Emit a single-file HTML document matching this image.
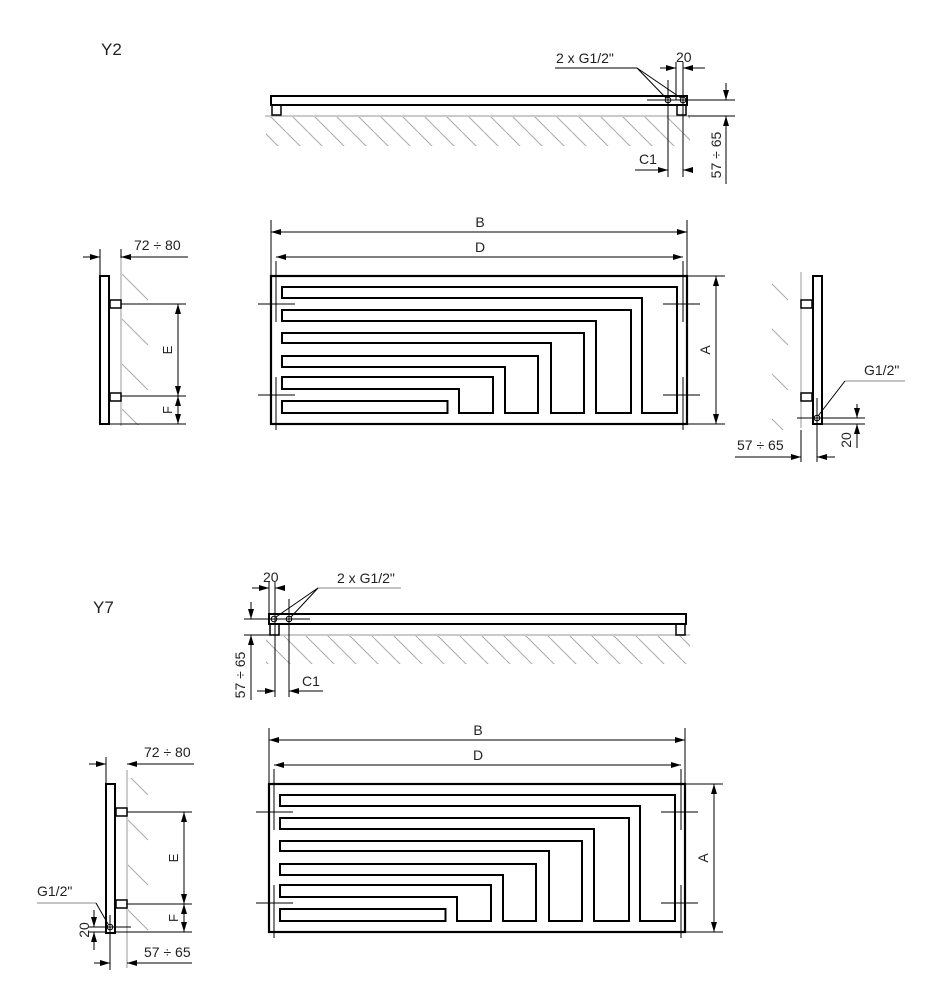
<!DOCTYPE html>
<html><head><meta charset="utf-8"><style>
html,body{margin:0;padding:0;background:#fff}
svg{display:block}
text{font-family:"Liberation Sans",sans-serif;fill:#222}
</style></head><body>
<svg width="940" height="1002" viewBox="0 0 940 1002" xmlns="http://www.w3.org/2000/svg">
<defs>
<marker id="ar" viewBox="0 0 10 6" refX="10" refY="3" markerWidth="10" markerHeight="6" markerUnits="userSpaceOnUse" orient="auto-start-reverse"><path d="M0,0 L10,3 L0,6z" fill="#000"/></marker>
<pattern id="h" patternUnits="userSpaceOnUse" width="22" height="22"><path d="M-1,-1 L23,23" stroke="#aaa" stroke-width="1"/></pattern>
<pattern id="hs" patternUnits="userSpaceOnUse" width="40" height="45"><path d="M2,4 L28,30" stroke="#aaa" stroke-width="1"/></pattern>
<g id="front">
<rect x="271" y="276" width="416" height="148" fill="none" stroke="#000" stroke-width="2.2"/>
<g fill="none" stroke="#000" stroke-width="2">
<polygon points="282,287 677,287 677,413 642,413 642,298 282,298"/>
<polygon points="282,310 631,310 631,413 596,413 596,321 282,321"/>
<polygon points="282,333 584,333 584,413 551,413 551,343 282,343"/>
<polygon points="282,356 538,356 538,413 505,413 505,367 282,367"/>
<polygon points="282,377 493,377 493,413 459,413 459,389 282,389"/>
<rect x="282" y="401" width="165.5" height="12"/>
</g>
<g stroke="#000" stroke-width="1">
<line x1="258" y1="304" x2="295" y2="304"/><line x1="276" y1="261" x2="276" y2="322"/>
<line x1="258" y1="395" x2="295" y2="395"/><line x1="276" y1="377" x2="276" y2="430"/>
<line x1="663" y1="304" x2="700" y2="304"/><line x1="683" y1="261" x2="683" y2="322"/>
<line x1="663" y1="395" x2="700" y2="395"/><line x1="683" y1="377" x2="683" y2="430"/>
<line x1="271" y1="220" x2="271" y2="276"/><line x1="687" y1="220" x2="687" y2="276"/>
<line x1="271" y1="232" x2="687" y2="232" marker-start="url(#ar)" marker-end="url(#ar)"/>
<line x1="276" y1="257" x2="683" y2="257" marker-start="url(#ar)" marker-end="url(#ar)"/>
<line x1="687" y1="276" x2="725" y2="276"/><line x1="687" y1="424" x2="725" y2="424"/>
<line x1="716" y1="276" x2="716" y2="424" marker-start="url(#ar)" marker-end="url(#ar)"/>
</g>
<text x="480" y="227" font-size="14" text-anchor="middle">B</text>
<text x="480" y="252" font-size="14" text-anchor="middle">D</text>
<text x="710" y="350" font-size="14" text-anchor="middle" transform="rotate(-90 710 350)">A</text>
</g>
</defs>

<text x="101" y="55" font-size="17">Y2</text>
<text x="93" y="613" font-size="17">Y7</text>

<!-- Y2 top view -->
<rect x="266" y="117" width="424" height="29" fill="url(#h)"/>
<line x1="265" y1="116" x2="690" y2="116" stroke="#aaa" stroke-width="1.2"/>
<rect x="271" y="96" width="416" height="9" fill="none" stroke="#000" stroke-width="2"/>
<rect x="272" y="105" width="9" height="10" fill="none" stroke="#000" stroke-width="1.5"/>
<rect x="677" y="105" width="9" height="10" fill="none" stroke="#000" stroke-width="1.5"/>
<g stroke="#000" stroke-width="1" fill="none">
<circle cx="668" cy="100" r="2.8"/><circle cx="683" cy="100" r="2.8"/>
<line x1="647" y1="100" x2="735" y2="100"/><line x1="688" y1="116" x2="735" y2="116"/>
<line x1="668" y1="80" x2="668" y2="177"/><line x1="683" y1="62" x2="683" y2="177"/>
<line x1="676" y1="62" x2="676" y2="100"/>
<line x1="660" y1="68" x2="676" y2="68" marker-end="url(#ar)"/><line x1="705" y1="68" x2="683" y2="68" marker-end="url(#ar)"/>
<line x1="635" y1="170" x2="668" y2="170" marker-end="url(#ar)"/><line x1="692" y1="170" x2="683" y2="170" marker-end="url(#ar)"/>
<line x1="726" y1="83" x2="726" y2="100" marker-end="url(#ar)"/><line x1="726" y1="184" x2="726" y2="116" marker-end="url(#ar)"/>
<line x1="555" y1="68" x2="637" y2="68"/><line x1="637" y1="68" x2="666" y2="98"/><line x1="637" y1="68" x2="681" y2="98"/>
</g>
<text x="556" y="63" font-size="14">2 x G1/2"</text>
<text x="676" y="62" font-size="14">20</text>
<text x="639" y="164" font-size="14">C1</text>
<text x="721" y="155" font-size="14" text-anchor="middle" transform="rotate(-90 721 155)">57 ÷ 65</text>

<use href="#front"/>
<use href="#front" transform="translate(-2,508)"/>

<!-- Y2 left side -->
<rect x="122" y="262" width="30" height="163" fill="url(#hs)"/>
<line x1="121" y1="255" x2="121" y2="426" stroke="#aaa" stroke-width="1.2"/>
<rect x="100" y="276" width="9" height="148" fill="none" stroke="#000" stroke-width="2"/>
<rect x="110" y="300" width="11" height="8" fill="#fff" stroke="#000" stroke-width="1.5"/>
<rect x="110" y="393" width="11" height="8" fill="#fff" stroke="#000" stroke-width="1.5"/>
<g stroke="#000" stroke-width="1">
<line x1="100" y1="249" x2="100" y2="276"/><line x1="121" y1="249" x2="121" y2="258"/>
<line x1="83" y1="257" x2="100" y2="257" marker-end="url(#ar)"/><line x1="188" y1="257" x2="121" y2="257" marker-end="url(#ar)"/>
<line x1="121" y1="304" x2="186" y2="304"/><line x1="121" y1="396" x2="186" y2="396"/><line x1="109" y1="424" x2="186" y2="424"/>
<line x1="178" y1="304" x2="178" y2="396" marker-start="url(#ar)" marker-end="url(#ar)"/>
<line x1="178" y1="396" x2="178" y2="424" marker-start="url(#ar)" marker-end="url(#ar)"/>
</g>
<text x="134" y="250" font-size="14">72 ÷ 80</text>
<text x="172" y="350" font-size="13" text-anchor="middle" transform="rotate(-90 172 350)">E</text>
<text x="172" y="410" font-size="13" text-anchor="middle" transform="rotate(-90 172 410)">F</text>

<!-- Y2 right side -->
<rect x="772" y="268" width="29" height="162" fill="url(#hs)"/>
<line x1="801" y1="272" x2="801" y2="428" stroke="#aaa" stroke-width="1.2"/>
<rect x="813" y="276" width="9" height="148" fill="none" stroke="#000" stroke-width="2"/>
<rect x="801" y="300" width="11" height="8" fill="#fff" stroke="#000" stroke-width="1.5"/>
<rect x="801" y="393" width="11" height="8" fill="#fff" stroke="#000" stroke-width="1.5"/>
<g stroke="#000" stroke-width="1" fill="none">
<circle cx="817" cy="418" r="2.8"/>
<line x1="797" y1="418" x2="865" y2="418"/><line x1="822" y1="424" x2="865" y2="424"/>
<line x1="857" y1="404" x2="857" y2="418" marker-end="url(#ar)"/><line x1="857" y1="448" x2="857" y2="424" marker-end="url(#ar)"/>
<line x1="817" y1="398" x2="817" y2="462"/><line x1="801" y1="430" x2="801" y2="462"/>
<line x1="735" y1="457" x2="801" y2="457" marker-end="url(#ar)"/><line x1="835" y1="457" x2="817" y2="457" marker-end="url(#ar)"/>
<line x1="905" y1="381" x2="845" y2="381" stroke="#888"/><line x1="845" y1="381" x2="818" y2="416"/>
</g>
<text x="864" y="375" font-size="14">G1/2"</text>
<text x="737" y="450" font-size="14">57 ÷ 65</text>
<text x="851" y="440" font-size="14" text-anchor="middle" transform="rotate(-90 851 440)">20</text>

<!-- Y7 top view -->
<rect x="266" y="636" width="424" height="28" fill="url(#h)"/>
<line x1="268" y1="635" x2="690" y2="635" stroke="#aaa" stroke-width="1.2"/>
<rect x="269" y="614" width="417" height="10" fill="none" stroke="#000" stroke-width="2"/>
<rect x="270" y="624" width="9" height="11" fill="none" stroke="#000" stroke-width="1.5"/>
<rect x="676" y="624" width="9" height="11" fill="none" stroke="#000" stroke-width="1.5"/>
<g stroke="#000" stroke-width="1" fill="none">
<circle cx="274" cy="619" r="2.8"/><circle cx="289" cy="619" r="2.8"/>
<line x1="244" y1="619" x2="310" y2="619"/><line x1="244" y1="635" x2="270" y2="635"/>
<line x1="269" y1="582" x2="269" y2="614"/><line x1="275" y1="582" x2="275" y2="697"/><line x1="289" y1="599" x2="289" y2="697"/>
<line x1="252" y1="588" x2="269" y2="588" marker-end="url(#ar)"/><line x1="284" y1="588" x2="275" y2="588" marker-end="url(#ar)"/>
<line x1="257" y1="691" x2="275" y2="691" marker-end="url(#ar)"/><line x1="323" y1="691" x2="289" y2="691" marker-end="url(#ar)"/>
<line x1="251" y1="602" x2="251" y2="619" marker-end="url(#ar)"/><line x1="251" y1="700" x2="251" y2="635" marker-end="url(#ar)"/>
<line x1="401" y1="588" x2="318" y2="588" stroke="#888"/><line x1="318" y1="588" x2="276" y2="617"/><line x1="318" y1="588" x2="291" y2="617"/>
</g>
<text x="263" y="582" font-size="14">20</text>
<text x="337" y="583" font-size="14">2 x G1/2"</text>
<text x="302" y="686" font-size="14">C1</text>
<text x="245" y="675" font-size="14" text-anchor="middle" transform="rotate(-90 245 675)">57 ÷ 65</text>

<!-- Y7 left side -->
<rect x="128" y="778" width="30" height="157" fill="url(#hs)"/>
<line x1="127" y1="770" x2="127" y2="968" stroke="#aaa" stroke-width="1.2"/>
<rect x="106" y="784" width="9" height="149" fill="none" stroke="#000" stroke-width="2"/>
<rect x="116" y="808" width="11" height="8" fill="#fff" stroke="#000" stroke-width="1.5"/>
<rect x="116" y="900" width="11" height="8" fill="#fff" stroke="#000" stroke-width="1.5"/>
<g stroke="#000" stroke-width="1" fill="none">
<circle cx="110" cy="927" r="2.8"/>
<line x1="106" y1="757" x2="106" y2="784"/>
<line x1="89" y1="764" x2="106" y2="764" marker-end="url(#ar)"/><line x1="194" y1="764" x2="127" y2="764" marker-end="url(#ar)"/>
<line x1="127" y1="812" x2="192" y2="812"/><line x1="127" y1="904" x2="192" y2="904"/><line x1="115" y1="932" x2="192" y2="932"/>
<line x1="184" y1="812" x2="184" y2="904" marker-start="url(#ar)" marker-end="url(#ar)"/>
<line x1="184" y1="904" x2="184" y2="932" marker-start="url(#ar)" marker-end="url(#ar)"/>
<line x1="88" y1="927" x2="131" y2="927"/><line x1="88" y1="932" x2="106" y2="932"/>
<line x1="94" y1="910" x2="94" y2="927" marker-end="url(#ar)"/><line x1="94" y1="950" x2="94" y2="932" marker-end="url(#ar)"/>
<line x1="110" y1="915" x2="110" y2="970"/>
<line x1="94" y1="963" x2="110" y2="963" marker-end="url(#ar)"/><line x1="192" y1="963" x2="127" y2="963" marker-end="url(#ar)"/>
<line x1="37" y1="903" x2="96" y2="903" stroke="#888"/><line x1="96" y1="903" x2="108" y2="924"/>
</g>
<text x="144" y="757" font-size="14">72 ÷ 80</text>
<text x="37" y="896" font-size="14">G1/2"</text>
<text x="144" y="957" font-size="14">57 ÷ 65</text>
<text x="89" y="930" font-size="14" text-anchor="middle" transform="rotate(-90 89 930)">20</text>
<text x="178" y="858" font-size="13" text-anchor="middle" transform="rotate(-90 178 858)">E</text>
<text x="178" y="918" font-size="13" text-anchor="middle" transform="rotate(-90 178 918)">F</text>
</svg>
</body></html>
